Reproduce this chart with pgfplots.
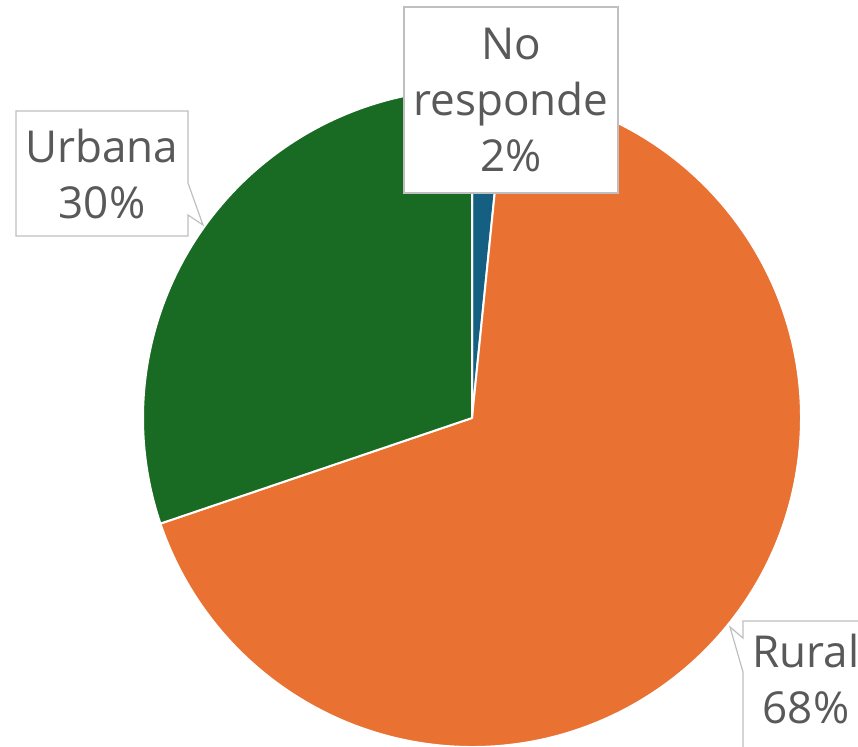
\documentclass[border=0pt]{standalone}
\usepackage{pgfplots}
\usepackage{pgfplotstable}
\pgfplotsset{compat=1.18}
\usepackage{fontspec}
\setmainfont{Open Sans}
\definecolor{cBlue}{HTML}{156082}
\definecolor{cOrange}{HTML}{E97132}
\definecolor{cGreen}{HTML}{196B24}
\definecolor{cText}{HTML}{595959}
\definecolor{cBox}{HTML}{BFBFBF}
\pgfplotstableread{
label value
NoResponde 1.6
Rural 68.2
Urbana 30.2
}\piedata
\begin{document}
\begin{tikzpicture}
\pgfplotstablegetelem{0}{value}\of\piedata\let\va\pgfplotsretval
\pgfplotstablegetelem{1}{value}\of\piedata\let\vb\pgfplotsretval
\pgfplotstablegetelem{2}{value}\of\piedata\let\vc\pgfplotsretval
\pgfmathsetmacro{\aA}{90}
\pgfmathsetmacro{\aB}{\aA-3.6*\va}
\pgfmathsetmacro{\aC}{\aB-3.6*\vb}
\pgfmathsetmacro{\aD}{\aC-3.6*\vc}
\def\R{164.5pt}
\begin{axis}[
  width=429pt, height=373pt, scale only axis,
  xmin=0, xmax=858, ymin=0, ymax=746, y dir=reverse,
  hide axis, clip=false,
]
\coordinate (bl) at (axis cs:0,746);
\coordinate (tr) at (axis cs:858,0);
\fill[cBlue, draw=white, line width=1pt, line join=round] (axis cs:472,418) -- +(\aA:\R) arc[start angle=\aA, end angle=\aB, radius=\R] -- cycle;
\fill[cOrange, draw=white, line width=1pt, line join=round] (axis cs:472,418) -- +(\aB:\R) arc[start angle=\aB, end angle=\aC, radius=\R] -- cycle;
\fill[cGreen, draw=white, line width=1pt, line join=round] (axis cs:472,418) -- +(\aC:\R) arc[start angle=\aC, end angle=\aD, radius=\R] -- cycle;
% label boxes
\draw[cBox, fill=white, line width=0.6pt] (axis cs:404,7) rectangle (axis cs:618,193);
\draw[cBox, fill=white, line width=0.6pt] (axis cs:16,111) -- (axis cs:188,111) -- (axis cs:188,183) -- (axis cs:203,225) -- (axis cs:188,215) -- (axis cs:188,236) -- (axis cs:16,236) -- cycle;
\draw[cBox, fill=white, line width=0.6pt] (axis cs:743,621) -- (axis cs:880,621) -- (axis cs:880,760) -- (axis cs:743,760) -- (axis cs:743,672) -- (axis cs:730,627) -- (axis cs:743,638) -- cycle;
\node[text=cText, align=center, font=\fontsize{22}{28}\selectfont] at (axis cs:511,100) {No\\responde\\2\%};
\node[text=cText, align=center, font=\fontsize{22}{28}\selectfont] at (axis cs:102,173.5) {Urbana\\30\%};
\node[text=cText, align=center, font=\fontsize{22}{28}\selectfont] at (axis cs:806,679) {Rural\\68\%};
\end{axis}
\pgfresetboundingbox
\path[use as bounding box] (bl) rectangle (tr);
\end{tikzpicture}
\end{document}
